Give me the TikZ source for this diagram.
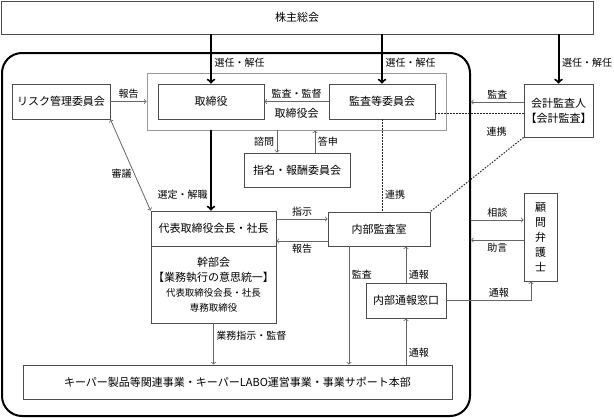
\documentclass[tikz,border=0pt]{standalone}
\usepackage{fontspec}
\setmainfont{Noto Sans CJK JP}
\usetikzlibrary{arrows}

\begin{document}
\begin{tikzpicture}[x=1pt,y=-1pt,
every node/.style={font=\fontsize{11}{15}\selectfont,text=black},
box/.style={draw=black!70,line width=0.8pt,inner sep=0pt,align=center},
lbl/.style={font=\fontsize{10}{12}\selectfont,inner sep=2.5pt},
arr/.style={draw=black!60,line width=0.8pt,-to},
big/.style={draw=black,line width=2pt,-to},
dots/.style={draw=black!85,line width=1pt,dash pattern=on 1.5pt off 1.5pt}]
\useasboundingbox (0,0) rectangle (614,418);

\node[box,minimum width=592pt,minimum height=33pt] (soukai) at (297,17.5) {株主総会};
\node[draw=black,line width=2pt,rounded corners=20pt,minimum width=468pt,minimum height=363pt,inner sep=0pt] (frame) at (236,234.5) {};
\node[box,draw=black!40,minimum width=299pt,minimum height=57pt] (board) at (296.5,101.5) {};
\node[box,minimum width=98pt,minimum height=35pt] (risk) at (61,101.5) {リスク管理委員会};
\node[box,minimum width=106pt,minimum height=35pt] (torishimari) at (211,101.5) {取締役};
\node[box,minimum width=106pt,minimum height=35pt] (kansa) at (382,101.5) {監査等委員会};
\node[lbl,font=\fontsize{11}{13}\selectfont] (boardname) at ([yshift=-11.5pt]board.center) {取締役会};
\node[box,minimum width=69pt,minimum height=53pt] (kaikei) at (558.5,110.5) {会計監査人\\【会計監査】};
\node[box,minimum width=106pt,minimum height=34pt] (shimei) at (297,170) {指名・報酬委員会};
\node[box,minimum width=125pt,minimum height=35pt] (daihyo) at (213.5,228.5) {代表取締役会長・社長};
\node[box,minimum width=125pt,minimum height=77pt] (kanbu) at (213.5,284.5) {幹部会\\【業務執行の意思統一】\\{\fontsize{9.5}{14}\selectfont 代表取締役会長・社長}\\{\fontsize{9.5}{14}\selectfont 専務取締役}};
\node[box,minimum width=102pt,minimum height=34pt] (naibu) at (379,229) {内部監査室};
\node[box,minimum width=80pt,minimum height=35pt] (tsuho) at (406,300.5) {内部通報窓口};
\node[box,minimum width=33pt,minimum height=88pt] (komon) at (540.5,237) {顧\\問\\弁\\護\\士};
\node[box,minimum width=429pt,minimum height=34pt] (honbu) at (237.5,382) {キーパー製品等関連事業・キーパーLABO運営事業・事業サポート本部};

\draw[big] (soukai.south -| torishimari)--(torishimari.north) node[lbl,right,pos=0.58]{選任・解任};
\draw[big] (soukai.south -| kansa)--(kansa.north) node[lbl,right,pos=0.58]{選任・解任};
\draw[big] (soukai.south -| kaikei)--(kaikei.north) node[lbl,right,pos=0.58]{選任・解任};
\draw[arr] (kansa.west)--(torishimari.east) node[lbl,midway,above]{監査・監督};
\draw[arr] (risk.east)--(board.west) node[lbl,midway,above]{報告};
\draw[arr] ([yshift=8.5pt]kaikei.west)--([yshift=8.5pt]kaikei.west -| frame.east) node[lbl,midway,above]{監査};
\draw[dots] ([yshift=-11.5pt]kansa.east)--([yshift=-11.5pt]kansa.east -| kaikei.west);
\draw[dots] (kaikei.south west)--(naibu.north east);
\node[lbl] (renkei1) at ([xshift=-27pt,yshift=6pt]kaikei.south west) {連携};
\draw[dots] (kansa.south)--(kansa.south |- naibu.north) node[lbl,right,pos=0.82]{連携};
\draw[big] (torishimari |- board.south)--(torishimari |- daihyo.north) node[lbl,left,pos=0.8]{選定・解職};
\draw[arr] ([xshift=-20pt]shimei.north |- board.south)--([xshift=-20pt]shimei.north) node[lbl,left,midway]{諮問};
\draw[arr] ([xshift=18pt]shimei.north)--([xshift=18pt]shimei.north |- board.south) node[lbl,right,midway]{答申};
\draw[arr,to-to] (risk.south east)--(daihyo.north west) node[lbl,left,pos=0.6]{審議};
\draw[arr] ([yshift=9.5pt]daihyo.east)--([yshift=9.5pt]daihyo.east -| naibu.west) node[lbl,midway,above]{指示};
\draw[arr] ([yshift=-12.5pt]daihyo.east -| naibu.west)--([yshift=-12.5pt]daihyo.east) node[lbl,midway,below]{報告};
\draw[arr] (kanbu.south)--(kanbu.south |- honbu.north) node[lbl,right,pos=0.31]{業務指示・監督};
\draw[arr] ([xshift=-30pt]naibu.south)--([xshift=-30pt]naibu.south |- honbu.north) node[lbl,right,pos=0.24]{監査};
\draw[arr] (tsuho.north)--(tsuho.north |- naibu.south) node[lbl,right,pos=0.22]{通報};
\draw[arr] (tsuho.south |- honbu.north)--(tsuho.south) node[lbl,right,pos=0.26]{通報};
\draw[arr] (tsuho.east)-|([xshift=-9.5pt]komon.south) node[lbl,above,pos=0.31]{通報};
\draw[arr] ([yshift=17pt]komon.west -| frame.east)--([yshift=17pt]komon.west) node[lbl,midway,above]{相談};
\draw[arr] ([yshift=-3pt]komon.west)--([yshift=-3pt]komon.west -| frame.east) node[lbl,midway,below]{助言};
\end{tikzpicture}
\end{document}
